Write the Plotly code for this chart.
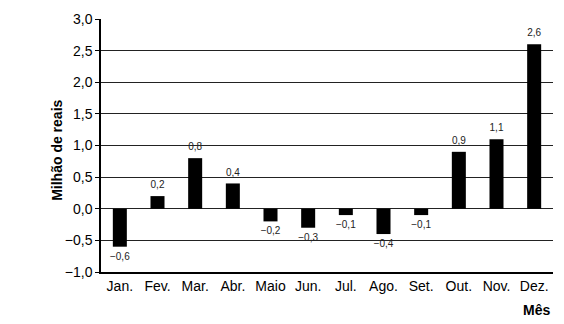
import plotly.graph_objects as go

months = ["Jan.", "Fev.", "Mar.", "Abr.", "Maio", "Jun.", "Jul.", "Ago.", "Set.", "Out.", "Nov.", "Dez."]
values = [-0.6, 0.2, 0.8, 0.4, -0.2, -0.3, -0.1, -0.4, -0.1, 0.9, 1.1, 2.6]
tick_vals = [-1.0, -0.5, 0.0, 0.5, 1.0, 1.5, 2.0, 2.5, 3.0]

labels = [("−" if v < 0 else "") + f"{abs(v):.1f}".replace(".", ",") for v in values]
tick_text = [("−" if t < 0 else "") + f"{abs(t):.1f}".replace(".", ",") for t in tick_vals]

font = "Liberation Sans, Arial, sans-serif"

fig = go.Figure()
fig.add_trace(go.Bar(
    x=months, y=values,
    marker=dict(color="black", line=dict(width=0)),
    width=0.372, hoverinfo="skip",
))
fig.add_trace(go.Scatter(
    x=months, y=values, text=labels, mode="markers+text",
    marker=dict(size=7, color="rgba(0,0,0,0)"),
    textposition=["bottom center" if v < 0 else "top center" for v in values],
    textfont=dict(family=font, size=10, color="#222"),
    cliponaxis=False, hoverinfo="skip",
))

fig.update_layout(
    width=564, height=324,
    margin=dict(l=101, r=11, t=11, b=52),
    paper_bgcolor="white", plot_bgcolor="white",
    showlegend=False,
    font=dict(family=font, color="black"),
    xaxis=dict(range=[-0.5, 11.5], showgrid=False, showline=True, linecolor="black", linewidth=1.5,
               ticks="", tickfont=dict(size=14), zeroline=False),
    yaxis=dict(range=[-1.0, 3.0], tickvals=tick_vals, ticktext=tick_text,
               showgrid=True, gridcolor="#222", gridwidth=1,
               showline=True, linecolor="black", linewidth=1.5,
               ticks="outside", ticklen=4, tickcolor="black",
               tickfont=dict(size=14), zeroline=True, zerolinecolor="#222", zerolinewidth=1),
    annotations=[
        dict(text="<b>Milhão de reais</b>", xref="paper", yref="paper",
             x=(57 - 101) / 452, y=(272 - 147) / 261, xanchor="center", yanchor="middle",
             textangle=-90, showarrow=False, font=dict(size=14, family=font)),
        dict(text="<b>Mês</b>", xref="paper", yref="paper",
             x=(536 - 101) / 452, y=-(311 - 272) / 261, xanchor="center", yanchor="middle",
             showarrow=False, font=dict(size=14, family=font)),
    ],
)

fig.write_html("out.html")
